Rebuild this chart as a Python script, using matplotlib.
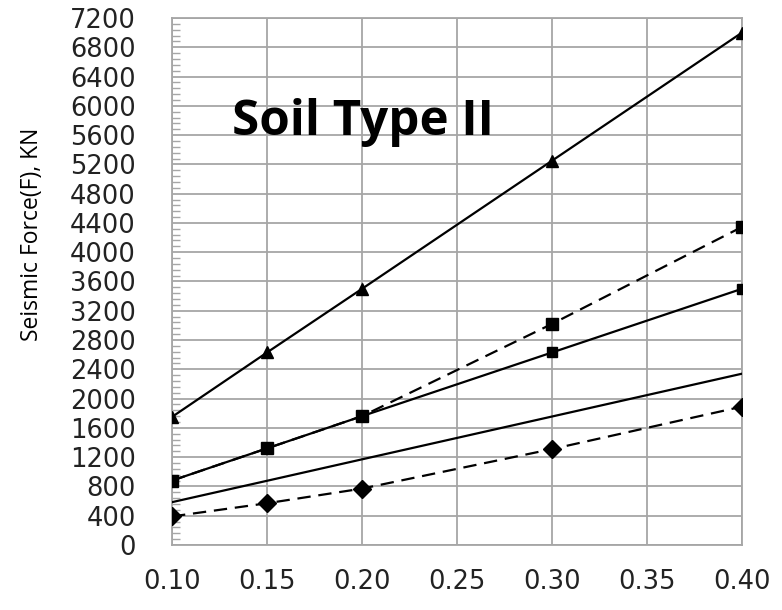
import matplotlib
matplotlib.use("Agg")
import matplotlib.pyplot as plt
from matplotlib.ticker import MultipleLocator, FormatStrFormatter

x = [0.10, 0.15, 0.20, 0.30, 0.40]
tri_solid = [1750, 2630, 3500, 5250, 7000]
sq_dashed = [880, 1320, 1760, 3020, 4345]
sq_solid = [880, 1320, 1760, 2630, 3500]
plain_solid = [585, 877, 1170, 1755, 2340]
dia_dashed = [390, 570, 770, 1310, 1890]

x_ticks = [0.10, 0.15, 0.20, 0.25, 0.30, 0.35, 0.40]
y_ticks = list(range(0, 7201, 400))

fig = plt.figure(figsize=(7.82, 6.10), dpi=100)
ax = fig.add_axes([0.22, 0.1066, 0.7288, 0.8639])

grid_c = "#a6a6a6"
dash = (0, (6, 3.5))
ax.plot(x, dia_dashed, color="black", lw=1.6, ls=dash, marker="D", ms=9.5, zorder=3)
ax.plot(x, plain_solid, color="black", lw=1.6, ls="-", zorder=3)
ax.plot(x, sq_solid, color="black", lw=1.6, ls="-", marker="s", ms=7.5, zorder=3)
ax.plot(x, sq_dashed, color="black", lw=1.6, ls=dash, marker="s", ms=9, zorder=3)
ax.plot(x, tri_solid, color="black", lw=1.6, ls="-", marker="^", ms=8, zorder=3)

ax.set_xlim(0.10, 0.40)
ax.set_ylim(0, 7200)
ax.set_xticks(x_ticks)
ax.set_yticks(y_ticks)
ax.xaxis.set_major_formatter(FormatStrFormatter("%.2f"))
ax.yaxis.set_minor_locator(MultipleLocator(80))
ax.grid(True, which="major", color=grid_c, lw=1.3)
ax.set_axisbelow(True)
for s in ax.spines.values():
    s.set_color(grid_c)
    s.set_linewidth(1.3)
ax.tick_params(axis="both", which="major", length=0, labelsize=18.5, colors="black")
ax.tick_params(axis="x", pad=17)
ax.tick_params(axis="y", pad=26)
ax.tick_params(axis="y", which="minor", direction="in", length=6, color=grid_c, width=1.0)
for lab in ax.get_xticklabels() + ax.get_yticklabels():
    lab.set_color("#222222")

ax.set_ylabel("Seismic Force(F), KN", fontsize=16.5, family="Open Sans")
ax.yaxis.set_label_coords(-0.225, 0.59)

ax.text(0.105, 0.778, "Soil Type II", transform=ax.transAxes, fontsize=35.5,
        fontweight="bold", family="Open Sans", va="baseline", ha="left")

fig.savefig("out.png", dpi=100)
